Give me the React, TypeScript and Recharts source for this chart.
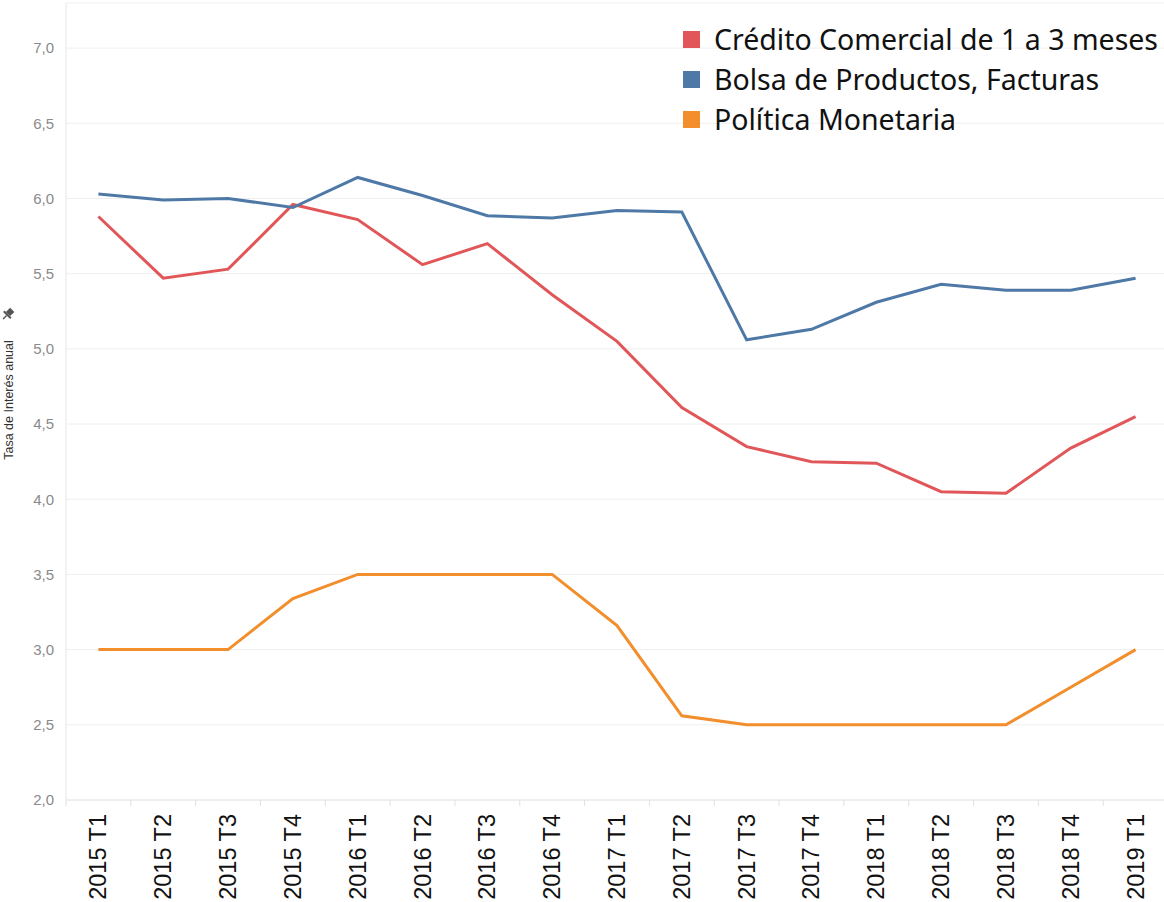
import { LineChart, Line, XAxis, YAxis, CartesianGrid, Label } from "recharts";

const quarters = [
  "2015 T1", "2015 T2", "2015 T3", "2015 T4",
  "2016 T1", "2016 T2", "2016 T3", "2016 T4",
  "2017 T1", "2017 T2", "2017 T3", "2017 T4",
  "2018 T1", "2018 T2", "2018 T3", "2018 T4",
  "2019 T1",
];

const credito = [5.88, 5.47, 5.53, 5.96, 5.86, 5.56, 5.7, 5.36, 5.05, 4.61, 4.35, 4.25, 4.24, 4.05, 4.04, 4.34, 4.55];
const bolsa = [6.03, 5.99, 6.0, 5.94, 6.14, 6.02, 5.885, 5.87, 5.92, 5.91, 5.06, 5.13, 5.31, 5.43, 5.39, 5.39, 5.47];
const politica = [3.0, 3.0, 3.0, 3.34, 3.5, 3.5, 3.5, 3.5, 3.16, 2.56, 2.5, 2.5, 2.5, 2.5, 2.5, 2.75, 3.0];

const yTicks = [2, 2.5, 3, 3.5, 4, 4.5, 5, 5.5, 6, 6.5, 7];

const series = [
  { key: "credito", name: "Crédito Comercial de 1 a 3 meses", color: "#e15759" },
  { key: "bolsa", name: "Bolsa de Productos, Facturas", color: "#4e79a7" },
  { key: "politica", name: "Política Monetaria", color: "#f28e2b" },
];

const data = quarters.map((q, i) => ({
  q,
  credito: credito[i],
  bolsa: bolsa[i],
  politica: politica[i],
}));

const BAND = (1168 - 66) / quarters.length;

function QuarterTick({ x, y, payload }: any) {
  return (
    <g>
      <line x1={x - BAND / 2} y1={y - 8} x2={x - BAND / 2} y2={y - 2} stroke="#e0e0e0" />
      <text
        x={x}
        y={y + 6}
        transform={`rotate(-90, ${x}, ${y + 6})`}
        textAnchor="end"
        dominantBaseline="central"
        fontSize={23.5}
        fontFamily="Liberation Sans, Arial, sans-serif"
        fill="#111"
      >
        {payload.value}
      </text>
    </g>
  );
}

function YLabel() {
  return (
    <g>
      <text
        x={9}
        y={400}
        transform="rotate(-90, 9, 400)"
        textAnchor="middle"
        dominantBaseline="central"
        fontSize={12.5}
        fontFamily="Liberation Sans, Arial, sans-serif"
        fill="#333"
      >
        Tasa de Interés anual
      </text>
      <g transform="translate(8, 314) rotate(45)" fill="#555">
        <rect x={-3} y={-6} width={6} height={6} />
        <rect x={-5} y={0} width={10} height={2} />
        <rect x={-0.7} y={2} width={1.4} height={5} />
      </g>
    </g>
  );
}

function LegendBox() {
  return (
    <div
      style={{
        position: "absolute",
        top: 19,
        left: 683,
        fontFamily: "Noto Sans, sans-serif",
        fontSize: 28.5,
        color: "#111",
      }}
    >
      {series.map((s) => (
        <div key={s.key} style={{ display: "flex", alignItems: "center", height: 40 }}>
          <span style={{ width: 17, height: 17, background: s.color, display: "inline-block", marginRight: 14 }} />
          <span style={{ whiteSpace: "nowrap" }}>{s.name}</span>
        </div>
      ))}
    </div>
  );
}

export default function App() {
  return (
    <div
      style={{
        position: "fixed",
        left: 0,
        top: 0,
        width: 1164,
        height: 902,
        overflow: "hidden",
        background: "#fff",
      }}
    >
      <LineChart width={1172} height={902} data={data} margin={{ top: 3, right: 4, left: 0, bottom: 0 }}>
        <CartesianGrid horizontal vertical={false} stroke="#efefef" />
        <XAxis
          dataKey="q"
          height={102}
          interval={0}
          padding={{ left: BAND / 2, right: BAND / 2 }}
          tick={<QuarterTick />}
          tickLine={false}
          axisLine={{ stroke: "#e6e6e6" }}
        />
        <YAxis
          width={66}
          domain={[2, 7.3]}
          ticks={yTicks}
          interval={0}
          tickFormatter={(v: number) => v.toFixed(1).replace(".", ",")}
          tick={{ fontSize: 15, fill: "#8a8a8a", fontFamily: "Liberation Sans, Arial, sans-serif" }}
          tickLine={false}
          axisLine={{ stroke: "#e6e6e6" }}
          tickMargin={6}
        >
          <Label content={<YLabel />} />
        </YAxis>
        {series.map((s) => (
          <Line
            key={s.key}
            dataKey={s.key}
            name={s.name}
            stroke={s.color}
            strokeWidth={3}
            dot={false}
            type="linear"
            isAnimationActive={false}
          />
        ))}
      </LineChart>
      <LegendBox />
    </div>
  );
}
